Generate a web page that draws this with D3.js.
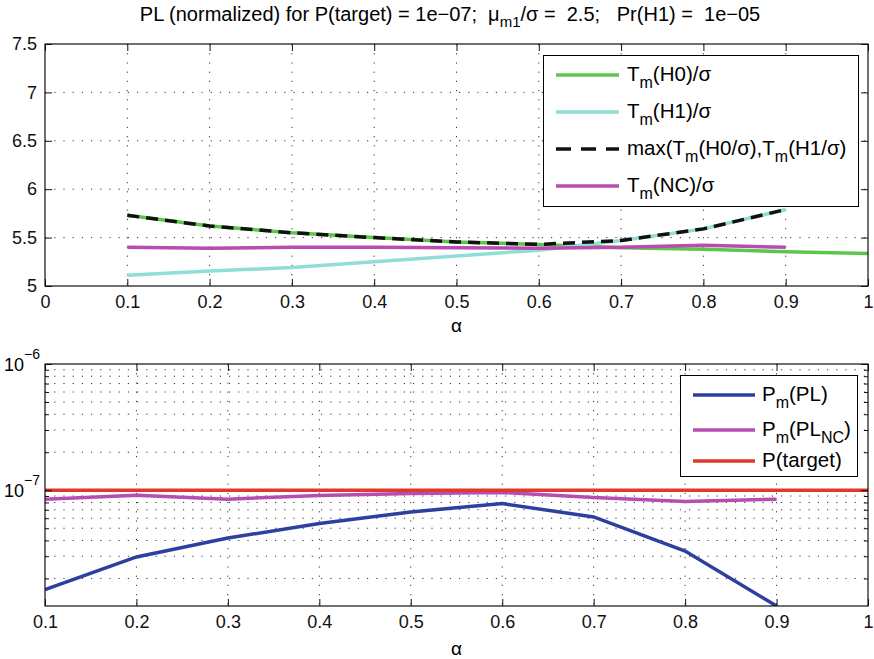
<!DOCTYPE html>
<html>
<head>
<meta charset="utf-8">
<script src="https://cdn.jsdelivr.net/npm/d3@7"></script>
<style>
  body { margin: 0; background: #fff; }
  svg { font-family: "Liberation Sans", Arial, sans-serif; }
  text { white-space: pre; }
</style>
</head>
<body>
<svg id="chart" width="874" height="659"></svg>
<script>
// data
let alphaTop = [0.1, 0.2, 0.3, 0.4, 0.5, 0.6, 0.7, 0.8, 0.9, 1.0];
let alpha = [0.1, 0.2, 0.3, 0.4, 0.5, 0.6, 0.7, 0.8, 0.9];
let tH0 = [5.73, 5.62, 5.55, 5.50, 5.455, 5.43, 5.395, 5.38, 5.355, 5.335];
let tH1 = [5.11, 5.155, 5.19, 5.25, 5.31, 5.37, 5.47, 5.59, 5.79];
let tMax = [5.73, 5.62, 5.55, 5.50, 5.455, 5.43, 5.47, 5.59, 5.79];
let tNC = [5.40, 5.39, 5.40, 5.40, 5.395, 5.39, 5.40, 5.42, 5.40];

let alphaTarget = [0.1, 1.0];
let pTarget = [1e-7, 1e-7];
let pPL = [1.63e-8, 2.96e-8, 4.18e-8, 5.44e-8, 6.73e-8, 7.84e-8, 6.14e-8, 3.30e-8, 1.21e-8];
let pNC = [8.49e-8, 9.13e-8, 8.5e-8, 9.1e-8, 9.4e-8, 9.6e-8, 8.75e-8, 8.13e-8, 8.5e-8];

let topXTicks = [0, 0.1, 0.2, 0.3, 0.4, 0.5, 0.6, 0.7, 0.8, 0.9, 1];
let topYTicks = [5, 5.5, 6, 6.5, 7, 7.5];
let botXTicks = [0.1, 0.2, 0.3, 0.4, 0.5, 0.6, 0.7, 0.8, 0.9, 1];
let botYMajor = [1e-7, 1e-6];
let botYMinor = [2e-8, 3e-8, 4e-8, 5e-8, 6e-8, 7e-8, 8e-8, 9e-8,
                 2e-7, 3e-7, 4e-7, 5e-7, 6e-7, 7e-7, 8e-7, 9e-7];

let cGreen = '#5cc64a', cCyan = '#8fdfd6', cMag = '#b94cb0', cBlue = '#2d40a0', cRed = '#e0392c';

let svg = d3.select('#chart');
let L = 45, R = 868;

// title
let title = svg.append('text')
  .attr('x', 450).attr('y', 21)
  .attr('text-anchor', 'middle')
  .attr('font-size', 20);
title.append('tspan').text('PL (normalized) for P(target) = 1e\u221207;  \u03bc');
title.append('tspan').attr('font-size', 15).attr('dy', 6).text('m1');
title.append('tspan').attr('dy', -6).text('/\u03c3 =  2.5;   Pr(H1) =  1e\u221205');

function dotted(sel) {
  sel.attr('stroke', '#333').attr('stroke-width', 1)
    .attr('stroke-dasharray', '1.2,8');
}

////////////////// TOP PLOT //////////////////
let tT = 44, tB = 286;
let x1 = d3.scaleLinear().domain([0, 1]).range([L, R]);
let y1 = d3.scaleLinear().domain([5, 7.5]).range([tB, tT]);

let g1 = svg.append('g');
g1.selectAll('.gx').data(topXTicks.slice(1, -1)).enter().append('line')
  .attr('x1', d => x1(d)).attr('x2', d => x1(d))
  .attr('y1', tT).attr('y2', tB).call(dotted);
g1.selectAll('.gy').data(topYTicks.slice(1, -1)).enter().append('line')
  .attr('y1', d => y1(d)).attr('y2', d => y1(d))
  .attr('x1', L).attr('x2', R).call(dotted);

let line1 = d3.line().x(d => x1(d[0])).y(d => y1(d[1]));
function drawTop(xs, ys, color, dash) {
  let p = g1.append('path')
    .datum(xs.map((a, i) => [a, ys[i]]))
    .attr('d', line1)
    .attr('fill', 'none')
    .attr('stroke', color)
    .attr('stroke-width', 3.5);
  if (dash) p.attr('stroke-dasharray', dash);
}
drawTop(alphaTop, tH0, cGreen);
drawTop(alpha, tH1, cCyan);
drawTop(alpha, tMax, '#111', '12,7');
drawTop(alpha, tNC, cMag);

g1.append('g').attr('transform', `translate(0,${tB})`)
  .call(d3.axisBottom(x1).tickValues(topXTicks).tickSizeInner(-7).tickSizeOuter(0)
    .tickPadding(9).tickFormat(d => d3.format('')(+d.toFixed(1))));
g1.append('g').attr('transform', `translate(0,${tT})`)
  .call(d3.axisTop(x1).tickValues(topXTicks).tickSizeInner(-7).tickSizeOuter(0).tickFormat(''));
g1.append('g').attr('transform', `translate(${L},0)`)
  .call(d3.axisLeft(y1).tickValues(topYTicks).tickSizeInner(-7).tickSizeOuter(0)
    .tickPadding(8).tickFormat(d => d3.format('')(d)));
g1.append('g').attr('transform', `translate(${R},0)`)
  .call(d3.axisRight(y1).tickValues(topYTicks).tickSizeInner(-7).tickSizeOuter(0).tickFormat(''));

g1.append('text').attr('x', (L + R) / 2).attr('y', 332)
  .attr('text-anchor', 'middle').attr('font-size', 19).text('\u03b1');

// legend top
let lg1 = g1.append('g');
lg1.append('rect').attr('x', 543.5).attr('y', 55.5).attr('width', 315).attr('height', 151)
  .attr('fill', 'white').attr('stroke', 'black').attr('stroke-width', 1);
let leg1 = [
  {c: cGreen, parts: [['T'], ['m', 1], ['(H0)/\u03c3']]},
  {c: cCyan, parts: [['T'], ['m', 1], ['(H1)/\u03c3']]},
  {c: '#111', dash: '15,10', parts: [['max(T'], ['m', 1], ['(H0/\u03c3),T'], ['m', 1], ['(H1/\u03c3)']]},
  {c: cMag, parts: [['T'], ['m', 1], ['(NC)/\u03c3']]}
];
let legY1 = [75, 112, 149, 186];
leg1.forEach((e, i) => {
  let yy = legY1[i];
  let ln = lg1.append('line').attr('x1', 556).attr('x2', 619).attr('y1', yy).attr('y2', yy)
    .attr('stroke', e.c).attr('stroke-width', 3.5);
  if (e.dash) ln.attr('stroke-dasharray', e.dash);
  let t = lg1.append('text').attr('x', 627).attr('y', yy + 6).attr('font-size', 20.5);
  let cur = 0;
  e.parts.forEach(p => {
    let dy = p[1] ? 7 : 0;
    t.append('tspan').attr('dy', dy - cur).attr('font-size', p[1] ? 16 : 20.5).text(p[0]);
    cur = dy;
  });
});

////////////////// BOTTOM PLOT //////////////////
let bT = 364, bB = 606;
let x2 = d3.scaleLinear().domain([0.1, 1]).range([L, R]);
let y2 = d3.scaleLog().domain([1.21e-8, 1e-6]).range([bB, bT]);

let g2 = svg.append('g');
svg.append('clipPath').attr('id', 'clipB').append('rect')
  .attr('x', L).attr('y', bT).attr('width', R - L).attr('height', bB - bT);

g2.selectAll('.gx').data(botXTicks.slice(1, -1)).enter().append('line')
  .attr('x1', d => x2(d)).attr('x2', d => x2(d))
  .attr('y1', bT).attr('y2', bB).call(dotted);
g2.selectAll('.gy').data(botYMinor.concat([1e-7])).enter().append('line')
  .attr('y1', d => y2(d)).attr('y2', d => y2(d))
  .attr('x1', L).attr('x2', R).call(dotted);

let line2 = d3.line().x(d => x2(d[0])).y(d => y2(d[1]));
let lines2 = g2.append('g').attr('clip-path', 'url(#clipB)');
function drawBot(xs, ys, color) {
  lines2.append('path')
    .datum(xs.map((a, i) => [a, ys[i]]))
    .attr('d', line2)
    .attr('fill', 'none')
    .attr('stroke', color)
    .attr('stroke-width', 3.5);
}
drawBot(alpha, pPL, cBlue);
drawBot(alpha, pNC, cMag);
drawBot(alphaTarget, pTarget, cRed);

g2.append('g').attr('transform', `translate(0,${bB})`)
  .call(d3.axisBottom(x2).tickValues(botXTicks).tickSizeInner(-7).tickSizeOuter(0)
    .tickPadding(9).tickFormat(d => d3.format('')(+d.toFixed(1))));
g2.append('g').attr('transform', `translate(0,${bT})`)
  .call(d3.axisTop(x2).tickValues(botXTicks).tickSizeInner(-7).tickSizeOuter(0).tickFormat(''));
g2.append('g').attr('transform', `translate(${L},0)`)
  .call(d3.axisLeft(y2).tickValues(botYMajor).tickSizeInner(-7).tickSizeOuter(0).tickFormat(''));
g2.append('g').attr('transform', `translate(${L},0)`)
  .call(d3.axisLeft(y2).tickValues(botYMinor).tickSizeInner(-4).tickSizeOuter(0).tickFormat(''));
g2.append('g').attr('transform', `translate(${R},0)`)
  .call(d3.axisRight(y2).tickValues(botYMajor).tickSizeInner(-7).tickSizeOuter(0).tickFormat(''));
g2.append('g').attr('transform', `translate(${R},0)`)
  .call(d3.axisRight(y2).tickValues(botYMinor).tickSizeInner(-4).tickSizeOuter(0).tickFormat(''));

// log labels 10^n
botYMajor.forEach(v => {
  let t = g2.append('text').attr('x', 40).attr('y', y2(v) + 7)
    .attr('text-anchor', 'end').attr('font-size', 18);
  t.append('tspan').text('10');
  t.append('tspan').attr('dy', -12).attr('font-size', 14).text('\u2212' + Math.round(-Math.log10(v)));
});

g2.append('text').attr('x', (L + R) / 2).attr('y', 655)
  .attr('text-anchor', 'middle').attr('font-size', 19).text('\u03b1');

// legend bottom
let lg2 = g2.append('g');
lg2.append('rect').attr('x', 680.5).attr('y', 375.5).attr('width', 177).attr('height', 101)
  .attr('fill', 'white').attr('stroke', 'black').attr('stroke-width', 1);
let leg2 = [
  {c: cBlue, parts: [['P'], ['m', 1], ['(PL)']]},
  {c: cMag, parts: [['P'], ['m', 1], ['(PL'], ['NC', 1], [')']]},
  {c: cRed, parts: [['P(target)']]}
];
let legY2 = [395, 430, 461];
leg2.forEach((e, i) => {
  let yy = legY2[i];
  lg2.append('line').attr('x1', 693).attr('x2', 755).attr('y1', yy).attr('y2', yy)
    .attr('stroke', e.c).attr('stroke-width', 3.5);
  let t = lg2.append('text').attr('x', 762).attr('y', yy + 6).attr('font-size', 20.5);
  let cur = 0;
  e.parts.forEach(p => {
    let dy = p[1] ? 7 : 0;
    t.append('tspan').attr('dy', dy - cur).attr('font-size', p[1] ? 16 : 20.5).text(p[0]);
    cur = dy;
  });
});

// axis styling
svg.selectAll('.domain').remove();
svg.selectAll('.tick line').attr('stroke', '#111');
svg.selectAll('.tick text').attr('font-size', 18).attr('fill', '#111')
  .attr('font-family', '"Liberation Sans", Arial, sans-serif');

// axes boxes
[[tT, tB], [bT, bB]].forEach(([a, b]) => {
  svg.append('rect').attr('x', L).attr('y', a).attr('width', R - L).attr('height', b - a)
    .attr('fill', 'none').attr('stroke', '#111').attr('stroke-width', 1.2);
});
</script>
</body>
</html>
